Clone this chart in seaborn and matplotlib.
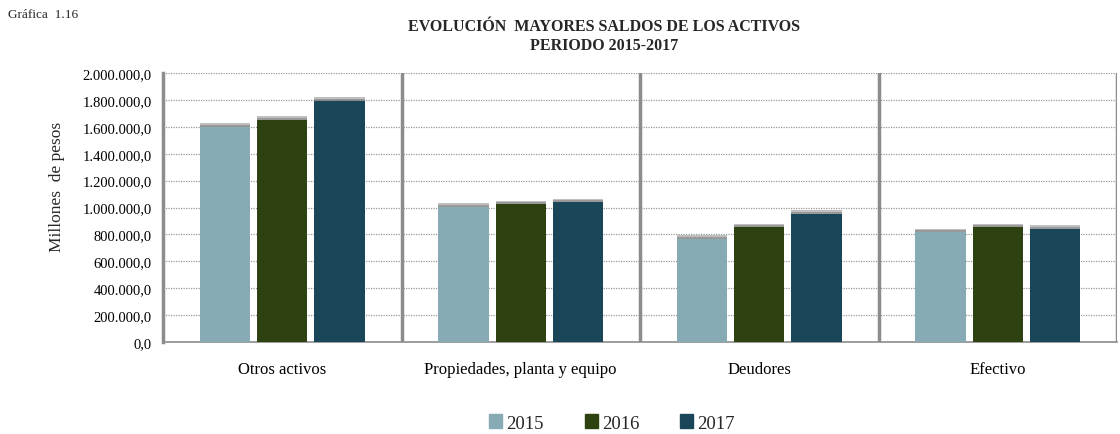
import matplotlib
matplotlib.use("Agg")
import matplotlib.pyplot as plt
import matplotlib.patheffects as pe
from matplotlib.ticker import FuncFormatter, FixedLocator
import seaborn as sns
import pandas as pd

categories = ["Otros activos", "Propiedades, planta y equipo", "Deudores", "Efectivo"]
years = ["2015", "2016", "2017"]
v2015 = [1600000, 1006000, 766000, 816000]
v2016 = [1650000, 1024000, 853000, 853000]
v2017 = [1795000, 1039000, 952000, 843000]
colors = ["#86ABB5", "#2E4110", "#1A4659"]

rows = []
for yr, vals in zip(years, [v2015, v2016, v2017]):
    for c, v in zip(categories, vals):
        rows.append({"Categoria": c, "Año": yr, "Valor": v})
df = pd.DataFrame(rows)

sns.set_theme(style="white")
plt.rcParams["font.family"] = ["Liberation Serif", "DejaVu Serif"]

fig = plt.figure(figsize=(11.2, 4.35), dpi=100)
ax = fig.add_axes([163 / 1120, 1 - 343 / 435, (1117 - 163) / 1120, (343 - 74) / 435])

sns.barplot(data=df, x="Categoria", y="Valor", hue="Año", order=categories,
            hue_order=years, palette=colors, width=0.72, gap=0.12,
            saturation=1, ax=ax, legend=False, zorder=3, linewidth=0, edgecolor="none")

for p in ax.patches:
    p.set_linewidth(0)
    p.set_path_effects([pe.SimplePatchShadow(offset=(0, 2.6), shadow_rgbFace="#606060", alpha=0.4),
                        pe.SimplePatchShadow(offset=(0, 1.3), shadow_rgbFace="#606060", alpha=0.4),
                        pe.Normal()])

ax.set_xlim(-0.5, 3.5)
ax.set_ylim(0, 2000000)
ax.yaxis.set_major_locator(FixedLocator(range(0, 2000001, 200000)))
ax.yaxis.set_major_formatter(FuncFormatter(lambda v, _: f"{int(v):,}".replace(",", ".") + ",0"))
ax.grid(axis="y", color="#999999", linestyle=(0, (1, 1)), linewidth=0.9, zorder=0)

for xb in [0.5, 1.5, 2.5, 3.5]:
    ax.axvline(xb, color="#8c8c8c", linewidth=2.5, zorder=2)

for s in ["top", "right"]:
    ax.spines[s].set_visible(False)
ax.spines["left"].set_color("#8c8c8c")
ax.spines["left"].set_linewidth(2.5)
ax.spines["bottom"].set_color("#8c8c8c")
ax.spines["bottom"].set_linewidth(1.2)

ax.set_xticks([0, 1, 2, 3])
ax.set_xticklabels(categories)
ax.set_xticks([-0.5, 0.5, 1.5, 2.5, 3.5], minor=True)
ax.tick_params(axis="x", which="major", length=0, labelsize=12, pad=14, colors="black")
ax.tick_params(axis="x", which="minor", length=6, width=1.5, color="#8c8c8c", direction="out")
ax.tick_params(axis="y", length=0, labelsize=10.5, pad=8, colors="black")
ax.set_xlabel("")
ax.set_ylabel("Millones  de pesos", fontsize=12.5)
ax.yaxis.set_label_coords(-0.1025, 0.58)

fig.text(8 / 1120, 1 - 15 / 435, "Gráfica  1.16", fontsize=9.5, ha="left", va="center")
fig.text(604 / 1120, 1 - 36.5 / 435, "EVOLUCIÓN  MAYORES SALDOS DE LOS ACTIVOS\nPERIODO 2015-2017",
         fontsize=11.5, fontweight="bold", ha="center", va="center", linespacing=1.3)

handles = [plt.Rectangle((0, 0), 1, 1, color=c) for c in colors]
fig.legend(handles, years, loc="center", bbox_to_anchor=(612 / 1120, 1 - 424 / 435), ncol=3,
           frameon=False, fontsize=13.5, handlelength=0.7, handleheight=0.7,
           handletextpad=0.2, columnspacing=2.2)

fig.savefig("out.png", dpi=100)
